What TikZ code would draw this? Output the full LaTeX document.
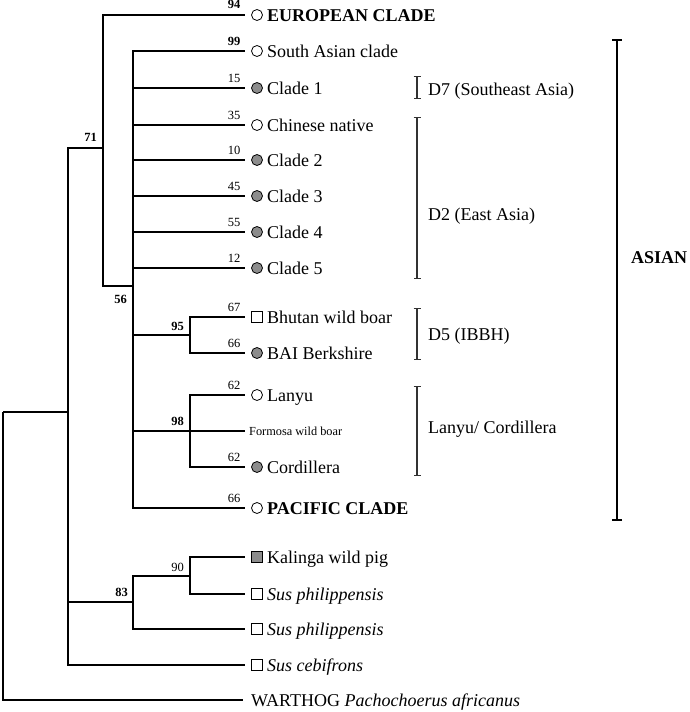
\documentclass[tikz,border=0pt]{standalone}
\usepackage{fontspec}
\setmainfont{Liberation Serif}
\usetikzlibrary{arrows.meta}
\definecolor{symgray}{RGB}{140,140,140}
\definecolor{brkgray}{RGB}{50,50,50}
\begin{document}
\begin{tikzpicture}[x=1pt,y=-1pt,
  tree/.style={line width=1.8pt},
  ocirc/.style={circle,draw,line width=0.8pt,minimum size=11pt,inner sep=0pt,fill=white},
  gcirc/.style={circle,draw,line width=0.8pt,minimum size=11pt,inner sep=0pt,fill=symgray},
  osq/.style={rectangle,draw,line width=0.8pt,minimum size=11pt,inner sep=0pt,fill=white},
  gsq/.style={rectangle,draw,line width=0.8pt,minimum size=11pt,inner sep=0pt,fill=symgray},
  leaf/.style={anchor=base west,inner sep=0pt,font=\fontsize{18pt}{20pt}\selectfont},
  small/.style={anchor=base west,inner sep=0pt,font=\fontsize{12.3pt}{14pt}\selectfont},
  bs/.style={anchor=base east,inner sep=0pt,font=\fontsize{12.5pt}{14pt}\selectfont},
  bsb/.style={bs,font=\fontsize{12.5pt}{14pt}\selectfont\bfseries},
  brk/.style={draw=brkgray,line width=1.1pt,{Bar[width=7pt]}-{Bar[width=7pt]}},
  bigbrk/.style={draw=black,line width=1.8pt,{Bar[width=10pt]}-{Bar[width=10pt]}},
  grp/.style={anchor=base west,inner sep=0pt,font=\fontsize{18pt}{20pt}\selectfont}
]
\useasboundingbox (0,0) rectangle (690,712);

% internal nodes
\coordinate (R) at (3,412);
\coordinate (A) at (68,412);
\coordinate (B) at (103,148);
\coordinate (C) at (133,286);
\coordinate (D) at (190,335);
\coordinate (E) at (190,431);
\coordinate (F) at (133,602);
\coordinate (G) at (190,576);

% leaves with symbol, text and support value
\foreach \n/\y/\s/\t/\b in {
  eu/15/ocirc/{\bfseries EUROPEAN CLADE}/{\bfseries 94},
  sa/51/ocirc/{South Asian clade}/{\bfseries 99},
  ca/88/gcirc/{Clade 1}/{15},
  cn/125/ocirc/{Chinese native}/{35},
  cb/160/gcirc/{Clade 2}/{10},
  cc/196/gcirc/{Clade 3}/{45},
  cd/232/gcirc/{Clade 4}/{55},
  ce/268/gcirc/{Clade 5}/{12},
  bh/317/osq/{Bhutan wild boar}/{67},
  bai/353/gcirc/{BAI Berkshire}/{66},
  ly/395/ocirc/{Lanyu}/{62},
  co/467/gcirc/{Cordillera}/{62},
  pac/508/ocirc/{\bfseries PACIFIC CLADE}/{66},
  kal/557/gsq/{Kalinga wild pig}/{},
  spa/594/osq/{\itshape Sus philippensis}/{},
  spb/629/osq/{\itshape Sus philippensis}/{},
  sc/665/osq/{\itshape Sus cebifrons}/{}%
}{
  \coordinate (\n) at (245,\y);
  \node[\s] (\n-s) at (257,\y) {};
  \node[leaf] (\n-t) at (267,\y+6.5) {\t};
  \node[bs] (\n-b) at (240.5,\y-6) {\b};
}

\coordinate (fo) at (245,431);
\node[small] (fo-t) at (249,435) {Formosa wild boar};
\coordinate (wh) at (243,700);
\node[leaf] (wh-t) at (251,706.5) {WARTHOG \itshape Pachochoerus africanus};

% internal support values
\node[bsb] (l71) at (97,141) {71};
\node[bsb] (l56) at (127,303) {56};
\node[bsb] (l95) at (184,330) {95};
\node[bsb] (l98) at (184,425) {98};
\node[bsb] (l83) at (128,596) {83};
\node[bs]  (l90) at (184,571) {90};

% branches
\draw[tree] (R) |- (A);
\draw[tree] (R) |- (wh);
\draw[tree] (A) |- (B);
\draw[tree] (A) |- (F);
\draw[tree] (A) |- (sc);
\draw[tree] (B) |- (eu);
\draw[tree] (B) |- (C);
\foreach \c in {sa,ca,cn,cb,cc,cd,ce,D,E,pac}{\draw[tree] (C) |- (\c);}
\draw[tree] (D) |- (bh);
\draw[tree] (D) |- (bai);
\draw[tree] (E) |- (ly);
\draw[tree] (E) |- (fo);
\draw[tree] (E) |- (co);
\draw[tree] (F) |- (G);
\draw[tree] (F) |- (spb);
\draw[tree] (G) |- (kal);
\draw[tree] (G) |- (spa);

% group brackets
\coordinate (d7a) at (417,76);  \coordinate (d7b) at (417,99);
\coordinate (d2a) at (417,117); \coordinate (d2b) at (417,279);
\coordinate (d5a) at (417,308); \coordinate (d5b) at (417,360);
\coordinate (lca) at (417,386); \coordinate (lcb) at (417,476);
\coordinate (asa) at (617,39);  \coordinate (asb) at (617,521);
\draw[brk] (d7a) -- (d7b);
\draw[brk] (d2a) -- (d2b);
\draw[brk] (d5a) -- (d5b);
\draw[brk] (lca) -- (lcb);
\draw[bigbrk] (asa) -- (asb);
\node[grp] (d7t) at (428,95) {D7 (Southeast Asia)};
\node[grp] (d2t) at (428,220) {D2 (East Asia)};
\node[grp] (d5t) at (428,340) {D5 (IBBH)};
\node[grp] (lct) at (428,433) {Lanyu/ Cordillera};
\node[grp,font=\fontsize{18pt}{20pt}\selectfont\bfseries] (ast) at (631,263) {ASIAN};
\end{tikzpicture}
\end{document}
